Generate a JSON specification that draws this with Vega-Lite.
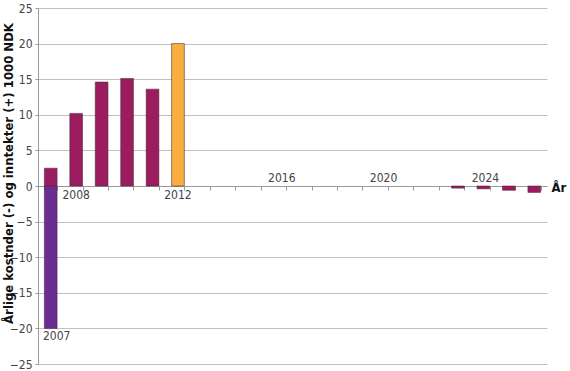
{
  "$schema": "https://vega.github.io/schema/vega-lite/v6.json",
  "autosize": "none",
  "width": 509,
  "height": 356,
  "padding": {"left": 38, "top": 8, "right": 23, "bottom": 7},
  "background": "white",
  "config": {
    "view": {"stroke": null},
    "font": "DejaVu Sans Condensed"
  },
  "data": {
    "values": [
      {"year": "2007", "value": 2.5, "type": "inntekt"},
      {"year": "2007", "value": -20, "type": "kostnad"},
      {"year": "2008", "value": 10.2, "type": "inntekt"},
      {"year": "2009", "value": 14.6, "type": "inntekt"},
      {"year": "2010", "value": 15.1, "type": "inntekt"},
      {"year": "2011", "value": 13.6, "type": "inntekt"},
      {"year": "2012", "value": 20.0, "type": "2012"},
      {"year": "2013", "value": 0, "type": "inntekt"},
      {"year": "2014", "value": 0, "type": "inntekt"},
      {"year": "2015", "value": 0, "type": "inntekt"},
      {"year": "2016", "value": 0, "type": "inntekt"},
      {"year": "2017", "value": 0, "type": "inntekt"},
      {"year": "2018", "value": 0, "type": "inntekt"},
      {"year": "2019", "value": 0, "type": "inntekt"},
      {"year": "2020", "value": 0, "type": "inntekt"},
      {"year": "2021", "value": 0, "type": "inntekt"},
      {"year": "2022", "value": 0, "type": "inntekt"},
      {"year": "2023", "value": -0.3, "type": "inntekt"},
      {"year": "2024", "value": -0.4, "type": "inntekt"},
      {"year": "2025", "value": -0.6, "type": "inntekt"},
      {"year": "2026", "value": -0.9, "type": "inntekt"}
    ]
  },
  "encoding": {
    "x": {
      "field": "year",
      "type": "ordinal",
      "scale": {
        "domain": ["2007","2008","2009","2010","2011","2012","2013","2014","2015","2016","2017","2018","2019","2020","2021","2022","2023","2024","2025","2026"],
        "paddingInner": 0.5, "paddingOuter": 0.25
      },
      "axis": {
        "offset": -178,
        "labels": false,
        "domainColor": "#999999",
        "tickColor": "#999999",
        "tickSize": 4,
        "tickBand": "extent",
        "title": "År",
        "titleFont": "DejaVu Sans Condensed",
        "titleFontWeight": "bold",
        "titleFontSize": 13,
        "titleColor": "#111111",
        "titleAnchor": "start",
        "titleAlign": "left",
        "titleBaseline": "middle",
        "titleX": 513,
        "titleY": 1
      }
    },
    "y": {
      "field": "value",
      "type": "quantitative",
      "scale": {"domain": [-25, 25], "nice": false, "zero": true},
      "axis": {
        "values": [-25, -20, -15, -10, -5, 0, 5, 10, 15, 20, 25],
        "gridColor": "#c0c0c0",
        "domainColor": "#999999",
        "tickColor": "#999999",
        "tickSize": 3,
        "labelPadding": 3,
        "labelFont": "DejaVu Sans Condensed",
        "labelFontSize": 12,
        "labelColor": "#444444",
        "title": "Årlige kostnder (-) og inntekter (+)  1000 NDK",
        "titleFont": "DejaVu Sans Condensed",
        "titleFontWeight": "bold",
        "titleFontSize": 13,
        "titleColor": "#111111",
        "titleAngle": -90,
        "titleAlign": "center",
        "titleBaseline": "middle",
        "titleX": -30,
        "titleY": 165
      }
    }
  },
  "layer": [
    {
      "transform": [{"filter": "datum.value != 0"}],
      "mark": {"type": "bar", "stroke": "#4a2a3a", "strokeWidth": 0.8, "strokeOpacity": 0.7},
      "encoding": {
        "y": {"field": "value", "type": "quantitative", "stack": null},
        "color": {
          "field": "type",
          "type": "nominal",
          "scale": {"domain": ["inntekt", "kostnad", "2012"], "range": ["#9c1d5f", "#6a2d91", "#f9ae3f"]},
          "legend": null
        }
      }
    },
    {
      "transform": [{"filter": "datum.year == '2008' || datum.year == '2012'"}],
      "mark": {"type": "text", "baseline": "top", "dy": 4, "font": "DejaVu Sans Condensed", "fontSize": 12, "color": "#444444"},
      "encoding": {
        "y": {"datum": 0},
        "text": {"field": "year"}
      }
    },
    {
      "transform": [{"filter": "datum.year == '2016' || datum.year == '2020' || datum.year == '2024'"}],
      "mark": {"type": "text", "baseline": "bottom", "dy": -1, "dx": 2, "font": "DejaVu Sans Condensed", "fontSize": 12, "color": "#444444"},
      "encoding": {
        "y": {"datum": 0},
        "text": {"field": "year"}
      }
    },
    {
      "transform": [{"filter": "datum.year == '2007' && datum.value < 0"}],
      "mark": {"type": "text", "baseline": "top", "dy": 3, "dx": 6, "font": "DejaVu Sans Condensed", "fontSize": 12, "color": "#444444"},
      "encoding": {
        "y": {"field": "value", "type": "quantitative"},
        "text": {"field": "year"}
      }
    }
  ]
}
